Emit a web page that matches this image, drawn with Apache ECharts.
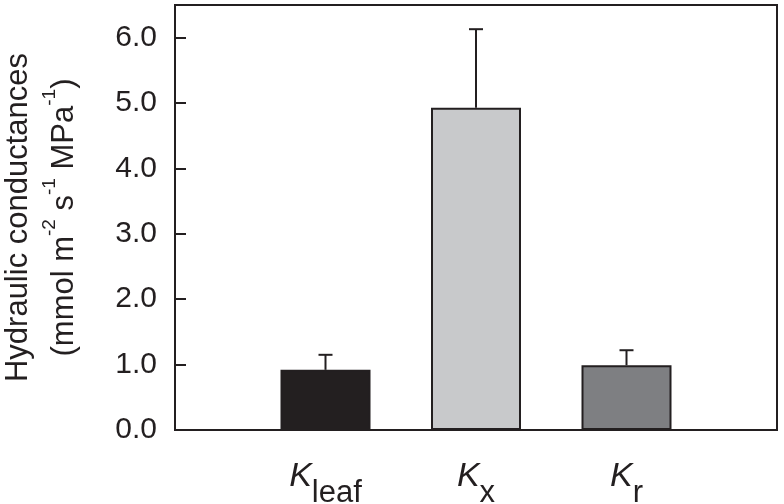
<!DOCTYPE html>
<html>
<head>
<meta charset="utf-8">
<script src="https://cdn.jsdelivr.net/npm/echarts@6/dist/echarts.min.js"></script>
<style>html,body{margin:0;padding:0;background:#fff}#c{width:784px;height:504px}</style>
</head>
<body>
<div id="c"></div>
<script>
var categories = ['Kleaf', 'Kx', 'Kr'];
var subscripts = ['leaf', 'x', 'r'];
var means = [0.92, 4.93, 0.99];
var upperErr = [1.15, 6.13, 1.22];
var barColors = ['#231f20', '#c8c9cb', '#7e7f82'];
var yTicks = [0, 1, 2, 3, 4, 5, 6];

var ink = '#231f20';
var font = '"Liberation Sans", Arial, sans-serif';
var axisCats = [''].concat(categories).concat(['']);
var barData = categories.map(function (c, i) {
  return { value: means[i], itemStyle: { color: barColors[i] } };
});
barData = [null].concat(barData).concat([null]);
var errData = categories.map(function (c, i) { return [i + 1, means[i], upperErr[i]]; });

var chart = echarts.init(document.getElementById('c'), null, { renderer: 'canvas' });
chart.setOption({
  animation: false,
  textStyle: { fontFamily: font, color: ink },
  grid: { left: 175, right: 7, top: 5, bottom: 74, containLabel: false, outerBoundsMode: 'none', show: true, borderColor: ink, borderWidth: 2, backgroundColor: 'transparent' },
  xAxis: {
    type: 'category',
    data: axisCats,
    boundaryGap: false,
    axisLine: { show: true, lineStyle: { color: ink, width: 2 } },
    axisTick: { show: false },
    axisLabel: {
      margin: 30,
      interval: 0,
      fontSize: 30,
      formatter: function (v) {
        var i = categories.indexOf(v);
        if (i < 0) return '';
        return '{k|K}{s|' + subscripts[i] + '}';
      },
      rich: {
        k: { fontSize: 34, fontStyle: 'italic', lineHeight: 32, verticalAlign: 'top', color: ink, fontFamily: font },
        s: { fontSize: 31, lineHeight: 30, padding: [18, 0, 0, 0], verticalAlign: 'top', color: ink, fontFamily: font }
      }
    },
    splitLine: { show: false }
  },
  yAxis: {
    type: 'value',
    min: 0,
    max: 6.5,
    interval: 1,
    axisLine: { show: true, lineStyle: { color: ink, width: 2 } },
    axisTick: { show: true, inside: true, length: 11, lineStyle: { color: ink, width: 2 } },
    splitLine: { show: false },
    axisLabel: {
      margin: 18,
      fontSize: 30,
      color: ink,
      showMaxLabel: false,
      formatter: function (v) { return yTicks.indexOf(v) >= 0 ? v.toFixed(1) : ''; }
    },
    name: '{a|Hydraulic conductances}\n{b|(mmol m}{s|-2}{b| s}{s|-1}{b| MPa}{s|-1}{b|)}',
    nameLocation: 'middle',
    nameRotate: 90,
    nameGap: 106,
    nameTextStyle: {
      rich: {
        a: { fontSize: 31, lineHeight: 34, color: ink, fontFamily: font },
        b: { fontSize: 31, lineHeight: 34, padding: [14, 0, 0, 0], verticalAlign: 'top', color: ink, fontFamily: font },
        s: { fontSize: 19, lineHeight: 19, padding: [5, 0, 0, 0], verticalAlign: 'top', color: ink, fontFamily: font }
      }
    }
  },
  series: [
    {
      type: 'bar',
      data: barData,
      barWidth: 90,
      itemStyle: { borderColor: ink, borderWidth: 2 },
      z: 2
    },
    {
      type: 'custom',
      data: errData,
      encode: { x: 0, y: [1, 2] },
      z: 3,
      renderItem: function (params, api) {
        var x = api.value(0);
        var base = api.coord([x, api.value(1)]);
        var top = api.coord([x, api.value(2)]);
        var st = { stroke: ink, lineWidth: 2 };
        return {
          type: 'group',
          children: [
            { type: 'line', shape: { x1: base[0], y1: base[1], x2: top[0], y2: top[1] }, style: st },
            { type: 'line', shape: { x1: top[0] - 7, y1: top[1], x2: top[0] + 7, y2: top[1] }, style: st }
          ]
        };
      }
    }
  ]
});
</script>
</body>
</html>
